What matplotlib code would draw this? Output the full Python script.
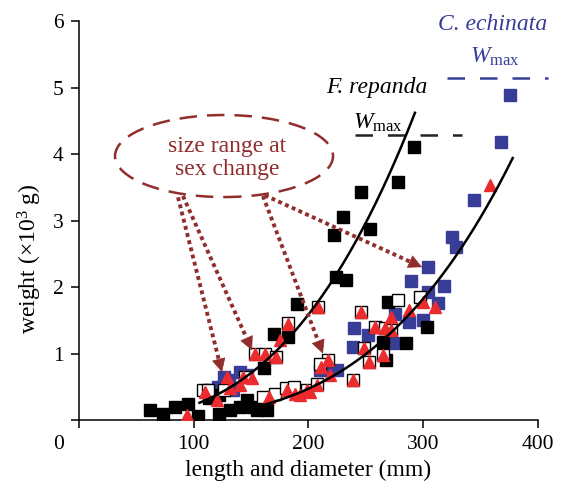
import numpy as np
import matplotlib
matplotlib.use('Agg')
import matplotlib.pyplot as plt
from matplotlib.patches import Ellipse
from matplotlib.transforms import ScaledTranslation

plt.rcParams['font.family'] = 'Liberation Serif'
plt.rcParams['mathtext.fontset'] = 'custom'
plt.rcParams['mathtext.rm'] = 'Liberation Serif'
plt.rcParams['mathtext.it'] = 'Liberation Serif:italic'

dark_red = '#902D2D'
blue = '#383D98'
red = '#EC2B2E'

# F. repanda (filled black squares)
black_x = [62, 73, 84, 95, 104, 113, 122, 122, 132, 140, 146, 152, 155, 161, 164, 161,
           170, 182, 190, 222, 224, 230, 233, 246, 254, 265, 269, 278, 285, 292, 303, 268]
black_y = [0.15, 0.10, 0.20, 0.25, 0.07, 0.33, 0.38, 0.10, 0.15, 0.20, 0.30, 0.20, 0.15, 0.18, 0.15, 0.78,
           1.30, 1.25, 1.75, 2.78, 2.15, 3.05, 2.10, 3.43, 2.87, 1.17, 1.77, 3.58, 1.16, 4.10, 1.40, 0.90]

# C. echinata (filled blue squares)
blue_x = [376, 368, 344, 325, 329, 304, 289, 318, 304, 313, 288, 300, 275, 240, 239, 252,
          274, 216, 225, 210, 126, 131, 140, 146, 121, 134, 115]
blue_y = [4.89, 4.18, 3.31, 2.75, 2.60, 2.30, 2.09, 2.01, 1.93, 1.76, 1.48, 1.50, 1.60, 1.38, 1.10, 1.28,
          1.16, 0.75, 0.75, 0.75, 0.65, 0.60, 0.72, 0.68, 0.50, 0.45, 0.45]

# open squares
open_x = [182, 208, 246, 258, 267, 272, 248, 253, 265, 239, 278, 297, 153, 162, 172, 217,
          210, 160, 171, 180, 187, 199, 207, 108, 112, 145, 126]
open_y = [1.46, 1.70, 1.62, 1.40, 1.38, 1.35, 1.08, 0.87, 0.98, 0.60, 1.80, 1.85, 1.00, 1.00, 0.95, 0.90,
          0.85, 0.35, 0.40, 0.48, 0.50, 0.45, 0.55, 0.45, 0.46, 0.65, 0.45]

# red triangles
tri_x = [182, 208, 246, 258, 267, 272, 248, 253, 265, 239, 288, 300, 310, 358, 153, 162,
         172, 175, 217, 211, 219, 207, 201, 193, 166, 181, 188, 199, 129, 143, 151, 132,
         140, 110, 94, 120, 272]
tri_y = [1.44, 1.70, 1.62, 1.40, 1.38, 1.55, 1.08, 0.87, 0.98, 0.60, 1.65, 1.78, 1.70, 3.53, 1.00, 1.00,
         0.95, 1.20, 0.90, 0.80, 0.68, 0.53, 0.42, 0.38, 0.35, 0.45, 0.40, 0.45, 0.65, 0.65, 0.63, 0.48,
         0.53, 0.42, 0.08, 0.30, 1.35]

# power-law fits W = a * L^b
fit_repanda = {'a': 4.62 / 292.8 ** 2.8, 'b': 2.8, 'xmin': 105, 'xmax': 292.8}
fit_echinata = {'a': 3.94 / 378 ** 3.33, 'b': 3.33, 'xmin': 155, 'xmax': 378}

wmax_repanda = 4.29
wmax_echinata = 5.14

fig = plt.figure(figsize=(5.78, 4.88), dpi=100)
ax = fig.add_axes([0.1367, 0.139, 0.794, 0.818])

ax.plot(blue_x, blue_y, 's', ms=8.6, color=blue, mec=blue, zorder=3)
ax.plot(black_x, black_y, 's', ms=8.6, color='black', zorder=4)
ax.plot(open_x, open_y, 's', ms=8.6, mfc='white', mec='black', mew=1.0, zorder=5)
ax.plot(tri_x, tri_y, '^', ms=9, color=red, mec=red, zorder=6)

for fit in (fit_repanda, fit_echinata):
    xs = np.linspace(fit['xmin'], fit['xmax'], 200)
    ax.plot(xs, fit['a'] * xs ** fit['b'], color='black', lw=1.8, zorder=7)

# W_max lines
ax.plot([240.5, 333.8], [wmax_repanda] * 2, color='#222222', lw=1.8, dashes=(7, 6), zorder=7)
ax.plot([320.7, 408.7], [wmax_echinata] * 2, color=blue, lw=1.8, dashes=(7, 6),
        zorder=7, clip_on=False)

ax.text(259.7, 5.0, 'F. repanda', fontsize=17, style='italic', ha='center', va='center')
ax.text(260.6, 4.47, r'$W_{\rm max}$', fontsize=17, ha='center', va='center')
ax.text(360.8, 5.94, 'C. echinata', fontsize=17, style='italic', ha='center', va='center',
        color=blue, clip_on=False)
ax.text(362.5, 5.46, r'$W_{\rm max}$', fontsize=17, ha='center', va='center', color=blue,
        clip_on=False)

# sex-change callout
ell = Ellipse((126.4, 3.97), 190, 1.233, fill=False, edgecolor=dark_red, lw=1.8,
              linestyle=(0, (7, 4)), zorder=8)
ax.add_patch(ell)
ax.text(129, 3.94, 'size range at\nsex change', fontsize=17, ha='center', va='center',
        color=dark_red, linespacing=1.15, zorder=8)

arrows = [((86.3, 3.35), (124.6, 0.72)),
          ((90.6, 3.37), (150.8, 1.05)),
          ((160.3, 3.37), (212.6, 1.00)),
          ((162.0, 3.38), (299.0, 2.30))]
for (x0, y0), (x1, y1) in arrows:
    ax.annotate('', xy=(x1, y1), xytext=(x0, y0),
                arrowprops=dict(arrowstyle='-', color=dark_red, lw=2.8, capstyle='butt',
                                linestyle=(0, (1.0, 0.9)), shrinkA=0, shrinkB=10),
                zorder=9)
    ax.annotate('', xy=(x1, y1), xytext=(x1 - (x1 - x0) * 0.04, y1 - (y1 - y0) * 0.04),
                arrowprops=dict(arrowstyle='-|>,head_length=0.9,head_width=0.45',
                                color=dark_red, lw=0.5, shrinkA=0, shrinkB=0),
                zorder=9)

ax.set_xlim(0, 400)
ax.set_ylim(0, 6)
ax.set_xticks([0, 100, 200, 300, 400])
ax.set_yticks([0, 1, 2, 3, 4, 5, 6])
ax.set_yticklabels(['', '1', '2', '3', '4', '5', '6'])
ax.tick_params(direction='out', length=6, width=1.1, labelsize=15.5, pad=5)
for side in ('top', 'right'):
    ax.spines[side].set_visible(False)
for side in ('left', 'bottom'):
    ax.spines[side].set_linewidth(1.1)

lbl0 = ax.get_xticklabels()[0]
lbl0.set_transform(lbl0.get_transform() + ScaledTranslation(-0.2, 0, fig.dpi_scale_trans))

ax.set_xlabel('length and diameter (mm)', fontsize=17, labelpad=4)
ax.set_ylabel('weight (×10$^{3}$ g)', fontsize=17)
ax.yaxis.set_label_coords(-0.077, 0.405)

fig.savefig('out.png', dpi=100)
